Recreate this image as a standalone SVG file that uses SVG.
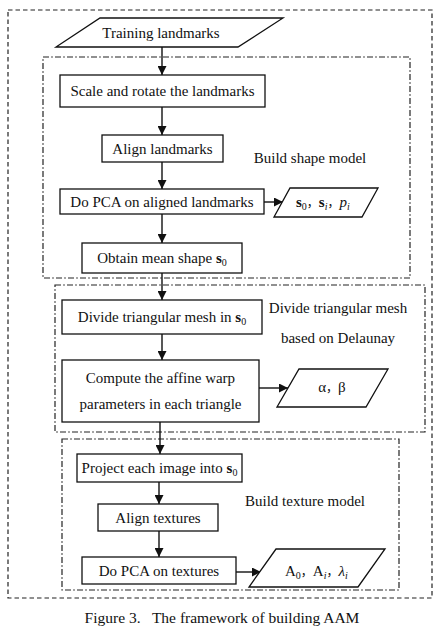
<svg xmlns="http://www.w3.org/2000/svg" width="443" height="633" viewBox="0 0 443 633">
<style>
text{font-family:"Liberation Serif","Times New Roman","Noto Sans CJK SC",serif;font-size:15px;fill:#111}
.box{fill:#fff;stroke:#111;stroke-width:1.3}
.para{fill:#fff;stroke:#111;stroke-width:1.3}
.grp{fill:none;stroke:#222;stroke-width:1.2;stroke-dasharray:6 2.2 1.6 2.2}
.outer{fill:none;stroke:#222;stroke-width:1.2;stroke-dasharray:4.5 3}
.c{text-anchor:middle}
.con line{stroke:#111;stroke-width:1.4}
.sub{font-size:10px}
.cjk{font-family:"Noto Sans CJK SC",sans-serif;font-size:12px}
</style>
<defs>
<marker id="ah" viewBox="0 0 10 10" refX="10" refY="5" markerWidth="9" markerHeight="9" markerUnits="userSpaceOnUse" orient="auto">
<path d="M0,0 L10,5 L0,10 z" fill="#111"/>
</marker>
</defs>
<rect fill="#fff" x="0" y="0" width="443" height="633"/>

<g id="outer-frame"><rect class="outer" x="8" y="10" width="424" height="588"/></g>

<g id="group-shape">
<rect class="grp" x="43" y="57" width="367" height="221"/>
<text class="c" x="310" y="163">Build shape model</text>
</g>
<g id="group-mesh">
<rect class="grp" x="55" y="285" width="370" height="147"/>
<text class="c" x="338" y="313">Divide triangular mesh</text>
<text class="c" x="338" y="343">based on Delaunay</text>
</g>
<g id="group-texture">
<rect class="grp" x="62" y="439" width="337" height="151"/>
<text class="c" x="305" y="506">Build texture model</text>
</g>

<g id="connectors" class="con">
<line x1="162" y1="47" x2="162" y2="75" marker-end="url(#ah)"/>
<line x1="162" y1="107" x2="162" y2="135" marker-end="url(#ah)"/>
<line x1="162" y1="162" x2="162" y2="189" marker-end="url(#ah)"/>
<line x1="162" y1="214" x2="162" y2="243" marker-end="url(#ah)"/>
<line x1="162" y1="273" x2="162" y2="300" marker-end="url(#ah)"/>
<line x1="162" y1="334" x2="162" y2="360" marker-end="url(#ah)"/>
<line x1="160" y1="422" x2="160" y2="454" marker-end="url(#ah)"/>
<line x1="159" y1="482" x2="159" y2="504" marker-end="url(#ah)"/>
<line x1="159" y1="531" x2="159" y2="557" marker-end="url(#ah)"/>
<line x1="264" y1="202" x2="283" y2="202" marker-end="url(#ah)"/>
<line x1="259" y1="388" x2="288" y2="388" marker-end="url(#ah)"/>
<line x1="236" y1="572" x2="261" y2="572" marker-end="url(#ah)"/>
</g>

<g id="training">
<polygon class="para" points="100,18 283,18 238,47 56,47"/>
<text class="c" x="161" y="38">Training landmarks</text>
</g>
<g id="scale">
<rect class="box" x="60" y="75" width="205" height="32"/>
<text class="c" x="162.5" y="96">Scale and rotate the landmarks</text>
</g>
<g id="align-landmarks">
<rect class="box" x="102" y="135" width="121" height="27"/>
<text class="c" x="162.5" y="153.5">Align landmarks</text>
</g>
<g id="pca-shape">
<rect class="box" x="60" y="189" width="204" height="25"/>
<text class="c" x="162" y="206.5">Do PCA on aligned landmarks</text>
</g>
<g id="shape-params">
<polygon class="para" points="290,188 378,188 362,217 274,217"/>
<text x="296" y="207"><tspan font-weight="bold">s</tspan><tspan class="sub" dy="3">0</tspan><tspan class="cjk" dy="-3">，</tspan><tspan font-weight="bold">s</tspan><tspan class="sub" dy="3" font-style="italic">i</tspan><tspan class="cjk" dy="-3">，</tspan><tspan font-style="italic">p</tspan><tspan class="sub" dy="3" font-style="italic">i</tspan></text>
</g>
<g id="mean-shape">
<rect class="box" x="82" y="243" width="160" height="30"/>
<text class="c" x="162" y="263">Obtain mean shape <tspan font-weight="bold">s</tspan><tspan class="sub" dy="3">0</tspan></text>
</g>
<g id="divide-mesh">
<rect class="box" x="62" y="300" width="200" height="34"/>
<text class="c" x="162" y="322">Divide triangular mesh in <tspan font-weight="bold">s</tspan><tspan class="sub" dy="3">0</tspan></text>
</g>
<g id="affine-warp">
<rect class="box" x="62" y="360" width="197" height="62"/>
<text class="c" x="160.5" y="383">Compute the affine warp</text>
<text class="c" x="160.5" y="409">parameters in each triangle</text>
</g>
<g id="warp-params">
<polygon class="para" points="299,369 388,369 366,407 277,407"/>
<text class="c" x="332" y="392">α<tspan class="cjk">，</tspan>β</text>
</g>
<g id="project">
<rect class="box" x="77" y="454" width="165" height="28"/>
<text class="c" x="159.5" y="473">Project each image into <tspan font-weight="bold">s</tspan><tspan class="sub" dy="3">0</tspan></text>
</g>
<g id="align-textures">
<rect class="box" x="98" y="504" width="120" height="27"/>
<text class="c" x="158" y="522.5">Align textures</text>
</g>
<g id="pca-texture">
<rect class="box" x="82" y="557" width="154" height="27"/>
<text class="c" x="159" y="575.5">Do PCA on textures</text>
</g>
<g id="texture-params">
<polygon class="para" points="276,549 385,549 358,587 249,587"/>
<text x="285" y="576">A<tspan class="sub" dy="3">0</tspan><tspan class="cjk" dy="-3">，</tspan>A<tspan class="sub" dy="3" font-style="italic">i</tspan><tspan class="cjk" dy="-3">，</tspan><tspan font-style="italic">λ</tspan><tspan class="sub" dy="3" font-style="italic">i</tspan></text>
</g>

<text class="c" x="222" y="623" style="font-size:15.5px" xml:space="preserve">Figure 3.   The framework of building AAM</text>
</svg>
